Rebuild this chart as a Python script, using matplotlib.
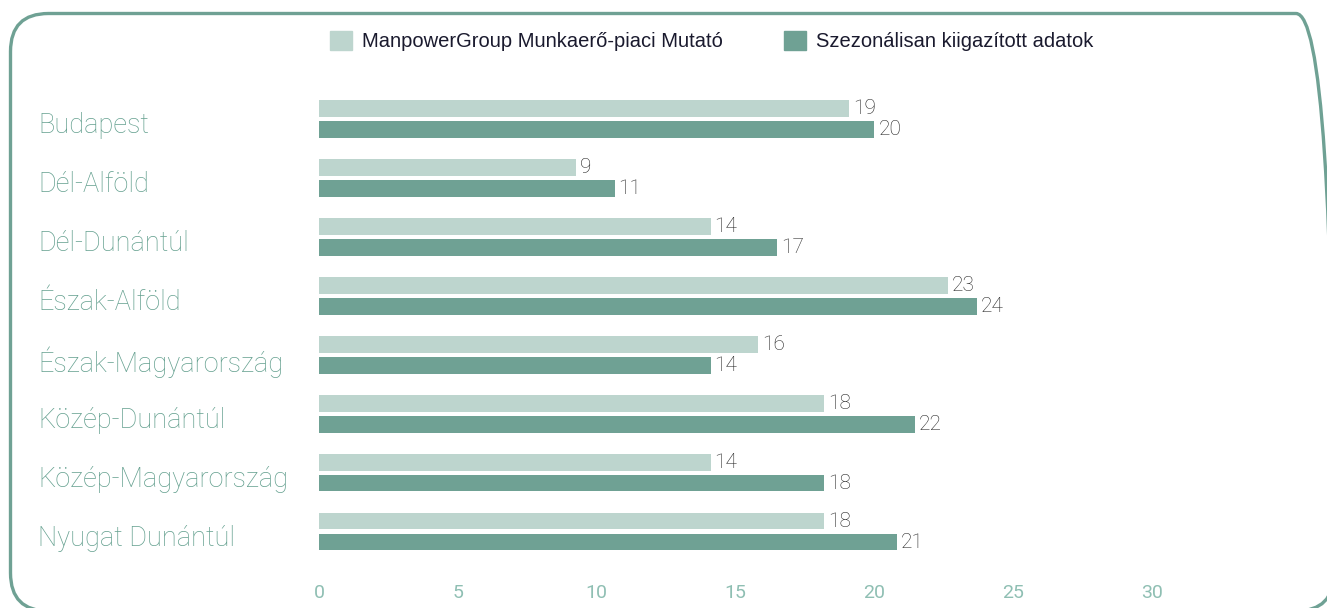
import matplotlib
matplotlib.use("Agg")
import matplotlib.pyplot as plt
import numpy as np
from matplotlib.patches import FancyBboxPatch, Patch
from matplotlib.transforms import blended_transform_factory

regions = ["Budapest", "Dél-Alföld", "Dél-Dunántúl", "Észak-Alföld",
           "Észak-Magyarország", "Közép-Dunántúl", "Közép-Magyarország",
           "Nyugat Dunántúl"]
# bar lengths, printed labels are the rounded figures
index_vals = [19.1, 9.25, 14.1, 22.65, 15.8, 18.2, 14.1, 18.2]
seasonal_vals = [20.0, 10.65, 16.5, 23.7, 14.1, 21.45, 18.2, 20.8]
index_labels = [19, 9, 14, 23, 16, 18, 14, 18]
seasonal_labels = [20, 11, 17, 24, 14, 22, 18, 21]
series_names = ["ManpowerGroup Munkaerő-piaci Mutató",
                "Szezonálisan kiigazított adatok"]
xticks = [0, 5, 10, 15, 20, 25, 30]

light = "#bdd5ce"
dark = "#6fa194"
label_col = "#64a08f"
tick_col = "#8fbfb3"

plt.rcParams['font.family'] = ['Liberation Sans', 'DejaVu Sans']
thin = ['Roboto', 'Liberation Sans', 'DejaVu Sans']

W, H = 1327, 608
fig = plt.figure(figsize=(W / 100, H / 100), dpi=100)

# rounded frame, right and bottom edges run off the picture
fl, ft, fr, fb = 10.5, 13.5, 1334, 611
r = 38
frame = FancyBboxPatch((fl / W, 1 - fb / H), (fr - fl) / W, (fb - ft) / H,
                       boxstyle="round,pad=0,rounding_size=%f" % (r / W),
                       mutation_aspect=W / H, transform=fig.transFigure,
                       fill=False, edgecolor=dark, linewidth=2.4)
fig.patches.append(frame)

# axes: x=0 at px 319, 27.77 px per unit
x0 = 319
ppu = 27.77
xmax = 33
top_px, bot_px = 83.5, 567
ax = fig.add_axes([x0 / W, 1 - bot_px / H, xmax * ppu / W, (bot_px - top_px) / H])

y = np.arange(len(regions))
h = 0.283
off = 0.178
ax.barh(y - off, index_vals, height=h, color=light)
ax.barh(y + off, seasonal_vals, height=h, color=dark)

lab_tr = blended_transform_factory(fig.transFigure, ax.transData)
for i in range(len(regions)):
    ax.text(index_vals[i] + 0.14, y[i] - off, str(index_labels[i]),
            va='center', ha='left', fontsize=15, color="#262626", family=thin, fontweight='light')
    ax.text(seasonal_vals[i] + 0.14, y[i] + off, str(seasonal_labels[i]),
            va='center', ha='left', fontsize=15, color="#262626", family=thin, fontweight='light')
    ax.text(38 / W, y[i] + 0.12, regions[i], transform=lab_tr,
            va='center', ha='left', fontsize=19.5, color=label_col, family=thin, fontweight='light')

ax.set_xlim(0, xmax)
ax.set_ylim(len(regions) - 0.4, -0.6)
ax.set_xticks(xticks)
ax.set_xticklabels([str(t) for t in xticks], family=thin)
ax.set_yticks([])
ax.tick_params(axis='x', length=0, pad=12, labelsize=14, labelcolor=tick_col)
for s in ax.spines.values():
    s.set_visible(False)

handles = [Patch(color=light), Patch(color=dark)]
fig.legend(handles, series_names, loc='center left', bbox_to_anchor=(312 / W, 1 - 41 / H),
           ncol=2, frameon=False, fontsize=14.5, handlelength=1.1, handleheight=1.1,
           handletextpad=0.5, columnspacing=3.0, labelcolor="#1a1a2e")

fig.savefig("out.png", dpi=100)
